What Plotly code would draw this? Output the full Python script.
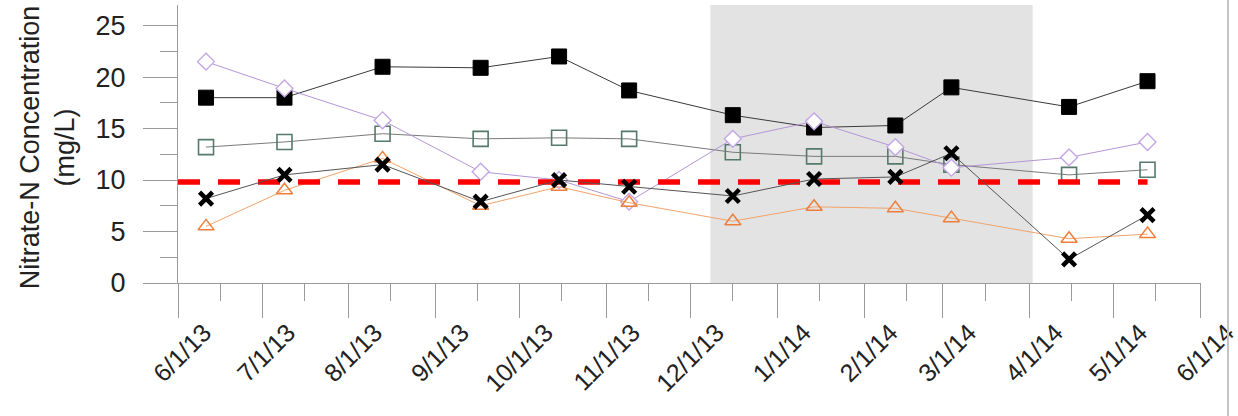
import plotly.graph_objects as go

# ---- data ----
dates = ["2013-06-11", "2013-07-09", "2013-08-13", "2013-09-17", "2013-10-15", "2013-11-09",
         "2013-12-16", "2014-01-14", "2014-02-12", "2014-03-04", "2014-04-15", "2014-05-13"]
series_a = [18.0, 18.0, 21.0, 20.9, 22.0, 18.7, 16.3, 15.1, 15.3, 19.0, 17.1, 19.6]   # filled square
series_b = [13.2, 13.7, 14.5, 14.0, 14.1, 14.0, 12.7, 12.3, 12.3, 11.5, 10.5, 11.0]   # open square
series_c = [21.5, 18.9, 15.8, 10.8, 10.0, 7.9, 14.0, 15.7, 13.2, 11.2, 12.2, 13.7]    # diamond
series_d = [8.2, 10.5, 11.5, 7.9, 10.0, 9.35, 8.45, 10.1, 10.3, 12.6, 2.3, 6.6]       # x
series_e = [5.5, 9.0, 12.1, 7.5, 9.35, 7.8, 6.0, 7.4, 7.25, 6.3, 4.3, 4.75]           # triangle
standard_value = 9.8
standard_dates = ["2013-06-01", "2014-05-13"]
shade_start, shade_end = "2013-12-08", "2014-04-02"
x_range = ["2013-06-01", "2014-06-01 02:00"]
y_range = [0, 27]
y_title = "Nitrate-N Concentration<br>(mg/L)"

FONT = "Liberation Sans, Arial, sans-serif"
AXIS = "#9a9a9a"

fig = go.Figure()

fig.add_trace(go.Scatter(x=dates, y=series_a, mode="lines+markers",
                         line=dict(color="#3a3a3a", width=1),
                         marker=dict(symbol="square", size=15, color="black",
                                     line=dict(color="black", width=1))))
fig.add_trace(go.Scatter(x=dates, y=series_b, mode="lines+markers",
                         line=dict(color="#7a7a7a", width=1),
                         marker=dict(symbol="square-open", size=15, color="#557a6a",
                                     line=dict(color="#557a6a", width=1.6))))
fig.add_trace(go.Scatter(x=dates, y=series_c, mode="lines+markers",
                         line=dict(color="#b596d6", width=1),
                         marker=dict(symbol="diamond", size=13, color="white",
                                     line=dict(color="#c4a6e6", width=1.4))))
fig.add_trace(go.Scatter(x=dates, y=series_e, mode="lines+markers",
                         line=dict(color="#f2a36a", width=1),
                         marker=dict(symbol="triangle-up-open", size=14, color="#ee7f3a",
                                     line=dict(color="#ee7f3a", width=1.5))))
fig.add_trace(go.Scatter(x=standard_dates, y=[standard_value, standard_value], mode="lines",
                         line=dict(color="#ff0000", width=5.5, dash="22px,18px")))
fig.add_trace(go.Scatter(x=dates, y=series_d, mode="lines+markers",
                         line=dict(color="#555555", width=1),
                         marker=dict(symbol="x-thin", size=13, color="black",
                                     line=dict(color="black", width=4.5))))

fig.add_shape(type="rect", xref="x", yref="paper", x0=shade_start, x1=shade_end, y0=0, y1=1,
              fillcolor="#e3e3e3", line=dict(width=0), layer="below")
fig.add_shape(type="line", xref="paper", yref="paper", x0=1.0264, x1=1.0264, y0=-0.5, y1=1.05,
              line=dict(color="#c4c4c4", width=2))

fig.add_annotation(text=y_title, xref="paper", yref="paper", x=-0.1276, y=0.49,
                   xanchor="center", yanchor="middle", textangle=-90, showarrow=False,
                   font=dict(family=FONT, size=27, color="#222222"))

fig.update_layout(
    width=1238, height=416, autosize=False,
    margin=dict(l=178, r=37, t=5, b=133, pad=0),
    paper_bgcolor="white", plot_bgcolor="white",
    showlegend=False,
    font=dict(family=FONT, color="#222222"),
    xaxis=dict(type="date", range=x_range, dtick="M1", tick0="2013-06-01",
               tickformat="%-m/%-d/%y", tickangle=-45, automargin=False,
               tickfont=dict(size=25, color="#222222"),
               ticks="outside", ticklen=34, tickcolor=AXIS, tickwidth=1,
               ticklabelshift=26, ticklabelstandoff=-10, ticklabeloverflow="allow",
               showline=True, linecolor=AXIS, linewidth=1, showgrid=False, zeroline=False,
               minor=dict(ticks="outside", ticklen=17, tickcolor=AXIS, dtick="M1",
                          tick0="2013-06-16", showgrid=False)),
    yaxis=dict(range=y_range, dtick=5, tick0=0, automargin=False,
               tickfont=dict(size=27, color="#222222"),
               ticks="outside", ticklen=34, tickcolor=AXIS, tickwidth=1,
               ticklabelstandoff=12,
               showline=True, linecolor=AXIS, linewidth=1, showgrid=False, zeroline=False,
               minor=dict(ticks="outside", ticklen=17, tickcolor=AXIS, dtick=2.5, showgrid=False)),
)

fig.write_html("out.html")
